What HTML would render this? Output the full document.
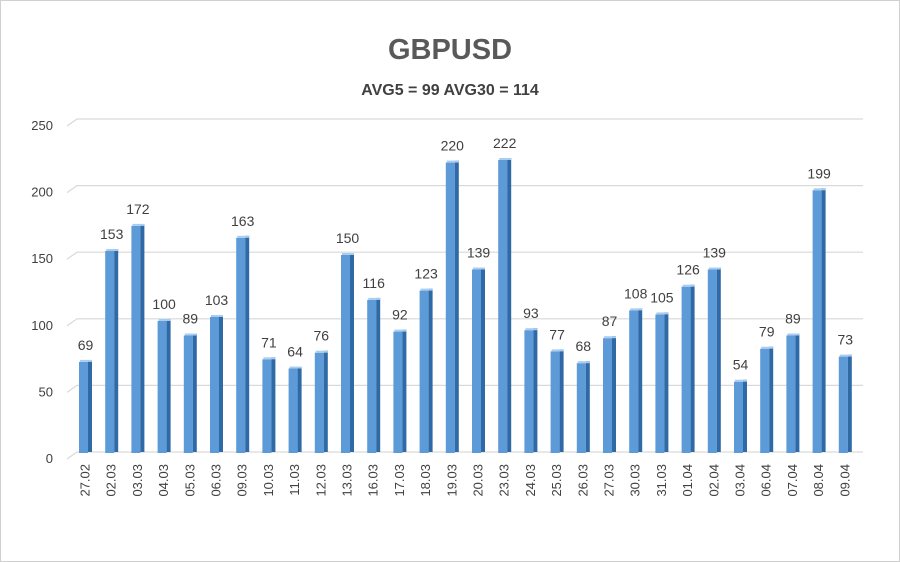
<!DOCTYPE html>
<html><head><meta charset="utf-8"><style>
body{margin:0;background:#fff}
svg{display:block}
text{font-family:"Liberation Sans",sans-serif;fill:#404040}
.v{font-size:14px;text-anchor:middle}
.f{fill:#5d9bd8}
.s{fill:#2f6aa6}
.t{fill:#a9cdf0}
</style></head><body>
<svg width="900" height="562" viewBox="0 0 900 562" xmlns="http://www.w3.org/2000/svg">
<rect x="0.5" y="0.5" width="899" height="561" fill="#fff" stroke="#d0d0d0"/>
<text x="450" y="59" font-size="29" font-weight="bold" text-anchor="middle" style="fill:#595959">GBPUSD</text>
<text x="450" y="95" font-size="16" font-weight="bold" text-anchor="middle">AVG5 = 99 AVG30 = 114</text>
<g stroke="#d9d9d9" stroke-width="1.2" fill="none">
<path d="M67 459 L77 452 L863 452"/>
<path d="M67 392.4 L77 385.4 L863 385.4"/>
<path d="M67 325.8 L77 318.8 L863 318.8"/>
<path d="M67 259.2 L77 252.2 L863 252.2"/>
<path d="M67 192.6 L77 185.6 L863 185.6"/>
<path d="M67 126 L77 119 L863 119"/>
</g>
<g font-size="13" text-anchor="end">
<text x="53" y="463">0</text>
<text x="53" y="396.4">50</text>
<text x="53" y="329.8">100</text>
<text x="53" y="263.2">150</text>
<text x="53" y="196.6">200</text>
<text x="53" y="130">250</text>
</g>
<g id="bars">
<rect class="f" x="79.0" y="361.9" width="9" height="91.1"/><rect class="s" x="88.0" y="360" width="4" height="92"/><rect class="t" x="80" y="359.9" width="12" height="2"/><text class="v" x="85.5" y="349.9">69</text>
<rect class="f" x="105.2" y="251.0" width="9" height="202"/><rect class="s" x="114.2" y="249" width="4" height="203"/><rect class="t" x="106.2" y="249" width="12" height="2"/><text class="v" x="111.7" y="239">153</text>
<rect class="f" x="131.4" y="225.9" width="9" height="227.1"/><rect class="s" x="140.4" y="224" width="4" height="228"/><rect class="t" x="132.4" y="223.9" width="12" height="2"/><text class="v" x="137.9" y="213.9">172</text>
<rect class="f" x="157.6" y="321.0" width="9" height="132"/><rect class="s" x="166.6" y="319" width="4" height="133"/><rect class="t" x="158.6" y="319" width="12" height="2"/><text class="v" x="164.1" y="309">100</text>
<rect class="f" x="183.8" y="335.5" width="9" height="117.5"/><rect class="s" x="192.8" y="333.5" width="4" height="118.5"/><rect class="t" x="184.8" y="333.5" width="12" height="2"/><text class="v" x="190.3" y="323.5">89</text>
<rect class="f" x="210.0" y="317.0" width="9" height="136"/><rect class="s" x="219.0" y="315" width="4" height="137"/><rect class="t" x="211" y="315" width="12" height="2"/><text class="v" x="216.5" y="305">103</text>
<rect class="f" x="236.2" y="237.8" width="9" height="215.2"/><rect class="s" x="245.2" y="235.8" width="4" height="216.2"/><rect class="t" x="237.2" y="235.8" width="12" height="2"/><text class="v" x="242.7" y="225.8">163</text>
<rect class="f" x="262.4" y="359.3" width="9" height="93.7"/><rect class="s" x="271.4" y="357.3" width="4" height="94.7"/><rect class="t" x="263.4" y="357.3" width="12" height="2"/><text class="v" x="268.9" y="347.3">71</text>
<rect class="f" x="288.6" y="368.5" width="9" height="84.5"/><rect class="s" x="297.6" y="366.5" width="4" height="85.5"/><rect class="t" x="289.6" y="366.5" width="12" height="2"/><text class="v" x="295.1" y="356.5">64</text>
<rect class="f" x="314.8" y="352.7" width="9" height="100.3"/><rect class="s" x="323.8" y="350.7" width="4" height="101.3"/><rect class="t" x="315.8" y="350.7" width="12" height="2"/><text class="v" x="321.3" y="340.7">76</text>
<rect class="f" x="341.0" y="255.0" width="9" height="198"/><rect class="s" x="350.0" y="253" width="4" height="199"/><rect class="t" x="342" y="253" width="12" height="2"/><text class="v" x="347.5" y="243">150</text>
<rect class="f" x="367.2" y="299.9" width="9" height="153.1"/><rect class="s" x="376.2" y="297.9" width="4" height="154.1"/><rect class="t" x="368.2" y="297.9" width="12" height="2"/><text class="v" x="373.7" y="287.9">116</text>
<rect class="f" x="393.4" y="331.6" width="9" height="121.4"/><rect class="s" x="402.4" y="329.6" width="4" height="122.4"/><rect class="t" x="394.4" y="329.6" width="12" height="2"/><text class="v" x="399.9" y="319.6">92</text>
<rect class="f" x="419.6" y="290.6" width="9" height="162.4"/><rect class="s" x="428.6" y="288.6" width="4" height="163.4"/><rect class="t" x="420.6" y="288.6" width="12" height="2"/><text class="v" x="426.1" y="278.6">123</text>
<rect class="f" x="445.8" y="162.6" width="9" height="290.4"/><rect class="s" x="454.8" y="160.6" width="4" height="291.4"/><rect class="t" x="446.8" y="160.6" width="12" height="2"/><text class="v" x="452.3" y="150.6">220</text>
<rect class="f" x="472.0" y="269.5" width="9" height="183.5"/><rect class="s" x="481.0" y="267.5" width="4" height="184.5"/><rect class="t" x="473" y="267.5" width="12" height="2"/><text class="v" x="478.5" y="257.5">139</text>
<rect class="f" x="498.2" y="160.0" width="9" height="293"/><rect class="s" x="507.2" y="158" width="4" height="294"/><rect class="t" x="499.2" y="158" width="12" height="2"/><text class="v" x="504.7" y="148">222</text>
<rect class="f" x="524.4" y="330.2" width="9" height="122.8"/><rect class="s" x="533.4" y="328.2" width="4" height="123.8"/><rect class="t" x="525.4" y="328.2" width="12" height="2"/><text class="v" x="530.9" y="318.2">93</text>
<rect class="f" x="550.6" y="351.4" width="9" height="101.6"/><rect class="s" x="559.6" y="349.4" width="4" height="102.6"/><rect class="t" x="551.6" y="349.4" width="12" height="2"/><text class="v" x="557.1" y="339.4">77</text>
<rect class="f" x="576.8" y="363.2" width="9" height="89.8"/><rect class="s" x="585.8" y="361.2" width="4" height="90.8"/><rect class="t" x="577.8" y="361.2" width="12" height="2"/><text class="v" x="583.3" y="351.2">68</text>
<rect class="f" x="603.0" y="338.2" width="9" height="114.8"/><rect class="s" x="612.0" y="336.2" width="4" height="115.8"/><rect class="t" x="604" y="336.2" width="12" height="2"/><text class="v" x="609.5" y="326.2">87</text>
<rect class="f" x="629.2" y="310.4" width="9" height="142.6"/><rect class="s" x="638.2" y="308.4" width="4" height="143.6"/><rect class="t" x="630.2" y="308.4" width="12" height="2"/><text class="v" x="635.7" y="298.4">108</text>
<rect class="f" x="655.4" y="314.4" width="9" height="138.6"/><rect class="s" x="664.4" y="312.4" width="4" height="139.6"/><rect class="t" x="656.4" y="312.4" width="12" height="2"/><text class="v" x="661.9" y="302.4">105</text>
<rect class="f" x="681.6" y="286.7" width="9" height="166.3"/><rect class="s" x="690.6" y="284.7" width="4" height="167.3"/><rect class="t" x="682.6" y="284.7" width="12" height="2"/><text class="v" x="688.1" y="274.7">126</text>
<rect class="f" x="707.8" y="269.5" width="9" height="183.5"/><rect class="s" x="716.8" y="267.5" width="4" height="184.5"/><rect class="t" x="708.8" y="267.5" width="12" height="2"/><text class="v" x="714.3" y="257.5">139</text>
<rect class="f" x="734.0" y="381.7" width="9" height="71.3"/><rect class="s" x="743.0" y="379.7" width="4" height="72.3"/><rect class="t" x="735" y="379.7" width="12" height="2"/><text class="v" x="740.5" y="369.7">54</text>
<rect class="f" x="760.2" y="348.7" width="9" height="104.3"/><rect class="s" x="769.2" y="346.7" width="4" height="105.3"/><rect class="t" x="761.2" y="346.7" width="12" height="2"/><text class="v" x="766.7" y="336.7">79</text>
<rect class="f" x="786.4" y="335.5" width="9" height="117.5"/><rect class="s" x="795.4" y="333.5" width="4" height="118.5"/><rect class="t" x="787.4" y="333.5" width="12" height="2"/><text class="v" x="792.9" y="323.5">89</text>
<rect class="f" x="812.6" y="190.3" width="9" height="262.7"/><rect class="s" x="821.6" y="188.3" width="4" height="263.7"/><rect class="t" x="813.6" y="188.3" width="12" height="2"/><text class="v" x="819.1" y="178.3">199</text>
<rect class="f" x="838.8" y="356.6" width="9" height="96.4"/><rect class="s" x="847.8" y="354.6" width="4" height="97.4"/><rect class="t" x="839.8" y="354.6" width="12" height="2"/><text class="v" x="845.3" y="344.6">73</text>
</g>
<g font-size="13" text-anchor="end">
<text transform="translate(89.5,464) rotate(-90)">27.02</text>
<text transform="translate(115.7,464) rotate(-90)">02.03</text>
<text transform="translate(141.9,464) rotate(-90)">03.03</text>
<text transform="translate(168.1,464) rotate(-90)">04.03</text>
<text transform="translate(194.3,464) rotate(-90)">05.03</text>
<text transform="translate(220.5,464) rotate(-90)">06.03</text>
<text transform="translate(246.7,464) rotate(-90)">09.03</text>
<text transform="translate(272.9,464) rotate(-90)">10.03</text>
<text transform="translate(299.1,464) rotate(-90)">11.03</text>
<text transform="translate(325.3,464) rotate(-90)">12.03</text>
<text transform="translate(351.5,464) rotate(-90)">13.03</text>
<text transform="translate(377.7,464) rotate(-90)">16.03</text>
<text transform="translate(403.9,464) rotate(-90)">17.03</text>
<text transform="translate(430.1,464) rotate(-90)">18.03</text>
<text transform="translate(456.3,464) rotate(-90)">19.03</text>
<text transform="translate(482.5,464) rotate(-90)">20.03</text>
<text transform="translate(508.7,464) rotate(-90)">23.03</text>
<text transform="translate(534.9,464) rotate(-90)">24.03</text>
<text transform="translate(561.1,464) rotate(-90)">25.03</text>
<text transform="translate(587.3,464) rotate(-90)">26.03</text>
<text transform="translate(613.5,464) rotate(-90)">27.03</text>
<text transform="translate(639.7,464) rotate(-90)">30.03</text>
<text transform="translate(665.9,464) rotate(-90)">31.03</text>
<text transform="translate(692.1,464) rotate(-90)">01.04</text>
<text transform="translate(718.3,464) rotate(-90)">02.04</text>
<text transform="translate(744.5,464) rotate(-90)">03.04</text>
<text transform="translate(770.7,464) rotate(-90)">06.04</text>
<text transform="translate(796.9,464) rotate(-90)">07.04</text>
<text transform="translate(823.1,464) rotate(-90)">08.04</text>
<text transform="translate(849.3,464) rotate(-90)">09.04</text>
</g>
</svg>
</body></html>
